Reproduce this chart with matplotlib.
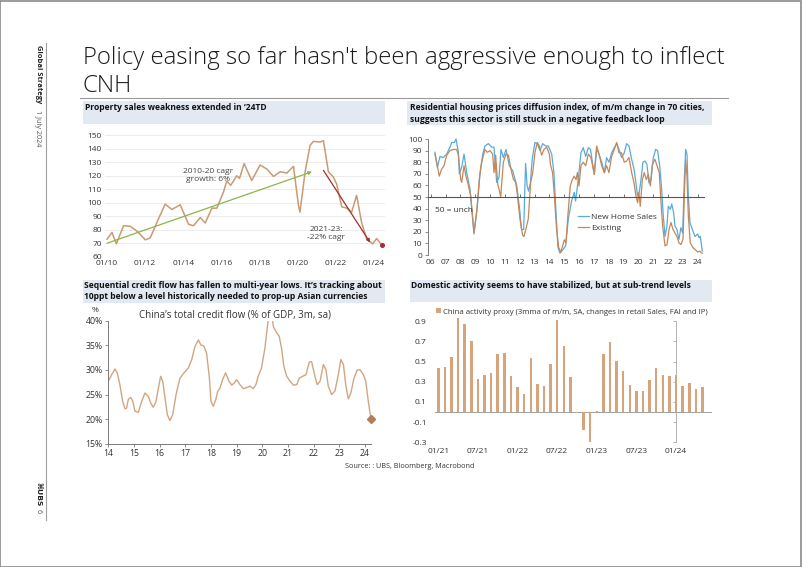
import matplotlib
matplotlib.use('Agg')
import matplotlib.pyplot as plt
from matplotlib.patches import Rectangle
from matplotlib.lines import Line2D

W, H = 802, 567
plt.rcParams['font.family'] = ['Open Sans', 'DejaVu Sans']
TXT = '#333333'

# ---------------- data ----------------
# Chart 1: property sales index
prop_x = [2010.0, 2010.26, 2010.49, 2010.87, 2011.22, 2011.57, 2012.01, 2012.27, 2012.62, 2013.05,
          2013.40, 2013.84, 2014.28, 2014.54, 2014.89, 2015.15, 2015.50, 2015.76, 2016.11, 2016.28,
          2016.49, 2016.81, 2016.95, 2017.19, 2017.59, 2018.03, 2018.38, 2018.73, 2019.08, 2019.43,
          2019.78, 2020.04, 2020.12, 2020.39, 2020.65, 2020.82, 2021.17, 2021.35, 2021.61, 2021.87,
          2022.04, 2022.31, 2022.57, 2022.83, 2023.09, 2023.35, 2023.62, 2023.93, 2024.14, 2024.40]
prop_y = [73, 78, 69.5, 83, 82.5, 79, 72.5, 74, 85.5, 99,
          95, 98.5, 84, 83, 89, 85, 96, 96, 108, 116,
          113, 120, 118, 129, 116.5, 128, 125, 119.5, 123, 122,
          127, 98, 93, 123, 142.5, 145.5, 145, 146, 123, 119,
          114, 97, 96, 93, 105.5, 85.5, 73, 69.5, 73.5, 69]
trend_1020_x = [2010.0, 2020.75]
trend_1020_y = [70, 123]
trend_2123_x = [2021.35, 2023.8]
trend_2123_y = [124, 70.5]
prop_ticks = [2010, 2012, 2014, 2016, 2018, 2020, 2022, 2024]
prop_ticklabels = ['01/10', '01/12', '01/14', '01/16', '01/18', '01/20', '01/22', '01/24']

# Chart 2: housing price diffusion index
new_x = [2006.29, 2006.45, 2006.63, 2006.85, 2007.08, 2007.30, 2007.42, 2007.60, 2007.71, 2007.87,
         2007.93, 2008.09, 2008.25, 2008.43, 2008.65, 2008.92, 2009.15, 2009.33, 2009.51, 2009.66,
         2009.89, 2010.11, 2010.27, 2010.45, 2010.61, 2010.74, 2010.90, 2011.08, 2011.30, 2011.53,
         2011.80, 2012.02, 2012.12, 2012.27, 2012.40, 2012.50, 2012.60, 2012.72, 2012.85, 2013.03,
         2013.19, 2013.37, 2013.55, 2013.75, 2013.93, 2014.16, 2014.31, 2014.45, 2014.58, 2014.72,
         2014.94, 2015.10, 2015.28, 2015.50, 2015.68, 2015.77, 2015.95, 2016.13, 2016.29, 2016.45,
         2016.63, 2016.78, 2016.90, 2017.03, 2017.19, 2017.35, 2017.53, 2017.71, 2017.86, 2018.02,
         2018.20, 2018.38, 2018.54, 2018.70, 2018.87, 2019.05, 2019.21, 2019.37, 2019.55, 2019.71,
         2019.84, 2019.95, 2020.07, 2020.18, 2020.31, 2020.45, 2020.58, 2020.72, 2020.85, 2021.01,
         2021.17, 2021.30, 2021.44, 2021.57, 2021.68, 2021.80, 2021.93, 2022.02, 2022.16, 2022.25,
         2022.38, 2022.47, 2022.60, 2022.74, 2022.87, 2022.99, 2023.10, 2023.19, 2023.28, 2023.37,
         2023.48, 2023.64, 2023.82, 2024.00, 2024.09, 2024.18, 2024.31]
new_y = [88.5, 75.6, 85, 84, 87, 93, 97, 97, 100, 88.5,
         70, 75.6, 87, 71, 57, 18, 42.5, 71, 87, 94,
         96, 93, 93, 62.6, 67, 91, 84, 91, 77, 72.7,
         60, 37, 22, 22, 79, 60, 55, 62, 83, 97,
         96, 90, 96, 94, 94, 87, 71, 37, 6.6, 1.5,
         5, 8, 31, 46.5, 54, 46.5, 65, 88, 92.5, 85,
         92.5, 91, 80, 69.5, 91, 87, 80, 71, 84, 80,
         88, 92.5, 96, 91, 84, 88, 96, 94, 82.5, 74,
         62, 51, 55, 65, 80, 81, 78, 62, 64, 84,
         91, 90, 77, 57, 34, 16, 25, 42, 39.4, 44,
         36.5, 25, 22, 13.5, 23.6, 19, 65, 91, 87, 51,
         28, 22, 16, 18, 15, 16, 3.5]
exist_x = [2006.29, 2006.45, 2006.58, 2006.74, 2006.90, 2007.08, 2007.30, 2007.53, 2007.75, 2007.87,
           2008.02, 2008.09, 2008.25, 2008.38, 2008.54, 2008.70, 2008.92, 2009.10, 2009.28, 2009.44,
           2009.66, 2009.82, 2010.00, 2010.18, 2010.27, 2010.38, 2010.52, 2010.63, 2010.72, 2010.90,
           2011.08, 2011.24, 2011.39, 2011.57, 2011.73, 2011.84, 2012.02, 2012.20, 2012.29, 2012.47,
           2012.58, 2012.74, 2012.88, 2013.03, 2013.19, 2013.33, 2013.48, 2013.64, 2013.82, 2014.00,
           2014.09, 2014.22, 2014.34, 2014.49, 2014.63, 2014.76, 2014.90, 2015.01, 2015.12, 2015.28,
           2015.41, 2015.55, 2015.68, 2015.80, 2015.89, 2016.00, 2016.13, 2016.29, 2016.45, 2016.63,
           2016.80, 2016.92, 2017.03, 2017.19, 2017.35, 2017.53, 2017.71, 2017.86, 2018.02, 2018.20,
           2018.38, 2018.54, 2018.70, 2018.87, 2019.05, 2019.21, 2019.37, 2019.55, 2019.71, 2019.84,
           2019.95, 2020.04, 2020.13, 2020.27, 2020.40, 2020.54, 2020.67, 2020.81, 2020.94, 2021.12,
           2021.26, 2021.41, 2021.53, 2021.64, 2021.80, 2021.93, 2022.07, 2022.20, 2022.34, 2022.47,
           2022.60, 2022.74, 2022.87, 2023.01, 2023.10, 2023.19, 2023.28, 2023.37, 2023.50, 2023.68,
           2023.82, 2024.00, 2024.13, 2024.31]
exist_y = [87, 77, 68, 74, 77, 86, 90, 91, 91, 86,
           65.5, 62.6, 77, 68, 60, 51, 19.5, 37, 65.5, 80,
           91, 88.5, 90, 87, 71, 86, 61, 55.5, 50, 80,
           87, 86, 75.6, 65.5, 62.6, 52.6, 31, 17, 16, 25,
           31, 62.6, 71, 88.5, 97, 94, 86, 91, 93, 87,
           77, 71, 51, 22, 6.6, 2.3, 8, 13, 10.6, 39,
           59.5, 65, 68, 65, 71, 59.5, 77, 80, 77, 87,
           84, 77, 69.5, 94, 87, 77, 71, 77, 71, 85,
           91, 97, 88, 88, 80, 81, 84, 71, 62, 51,
           45, 54, 42, 65, 71, 65, 69.5, 59.5, 78, 82.5,
           77, 71, 45, 25, 7.8, 9, 22, 28, 22, 19,
           16, 10.6, 9, 13.5, 51, 82, 68, 34, 10.6, 6.3,
           4.9, 2.6, 3.4, 1.4]
diff_years = list(range(2006, 2025))
diff_labels = ['%02d' % (y % 100) for y in diff_years]

# Chart 3: China total credit flow (% of GDP)
credit_x = [2014.0, 2014.13, 2014.26, 2014.35, 2014.45, 2014.56, 2014.65, 2014.71, 2014.78, 2014.87,
            2014.95, 2015.04, 2015.17, 2015.30, 2015.43, 2015.56, 2015.65, 2015.75, 2015.86, 2015.95,
            2016.04, 2016.12, 2016.21, 2016.30, 2016.40, 2016.51, 2016.64, 2016.79, 2016.95, 2017.12,
            2017.25, 2017.38, 2017.51, 2017.60, 2017.73, 2017.83, 2017.94, 2018.00, 2018.09, 2018.19,
            2018.26, 2018.35, 2018.45, 2018.57, 2018.70, 2018.81, 2018.90, 2019.00, 2019.13, 2019.26,
            2019.39, 2019.52, 2019.65, 2019.75, 2019.84, 2019.97, 2020.10, 2020.19, 2020.26, 2020.36,
            2020.43, 2020.53, 2020.66, 2020.75, 2020.84, 2020.95, 2021.08, 2021.21, 2021.34, 2021.44,
            2021.57, 2021.70, 2021.83, 2021.92, 2022.05, 2022.14, 2022.25, 2022.38, 2022.48, 2022.57,
            2022.70, 2022.83, 2022.96, 2023.06, 2023.16, 2023.25, 2023.35, 2023.45, 2023.57, 2023.70,
            2023.81, 2023.94, 2024.03, 2024.13, 2024.23]
credit_y = [27.7, 29, 30.2, 29.4, 27, 23.6, 22.1, 22.2, 24, 24.4,
            23.7, 21.6, 21.4, 23.6, 25.3, 24.6, 23.3, 22.4, 23.6, 26.3,
            28.7, 27.7, 24.3, 20.9, 19.7, 20.9, 25, 28.3, 29.4, 30.4,
            32.1, 34.8, 36.1, 35.1, 34.8, 33.4, 28.3, 23.6, 22.6, 24,
            25.6, 26.3, 28, 29.4, 27.7, 26.9, 27.3, 28, 27, 26.2,
            26.4, 26.7, 26.2, 27, 28.7, 30.4, 34.4, 38.5, 41.2, 41.5,
            38.8, 37.8, 36.8, 34.4, 30.7, 28.7, 27.7, 26.9, 27, 28.3,
            28.7, 29, 31.6, 31.7, 28.7, 27, 27.7, 31.1, 30, 26.7,
            25, 25.7, 29, 32.1, 31.1, 27, 24.1, 25.3, 28.3, 30,
            30, 29, 27.7, 23.6, 20.1]
credit_ticks = list(range(2014, 2025))
credit_ticklabels = ['%02d' % (y % 100) for y in credit_ticks]
credit_yticks = [15, 20, 25, 30, 35, 40]

# Chart 4: China activity proxy, monthly Jan-21 .. May-24
activity = [0.44, 0.45, 0.55, 0.93, 0.87, 0.70, 0.33, 0.37, 0.39, 0.575,
            0.585, 0.355, 0.245, 0.18, 0.54, 0.28, 0.255, 0.475, 0.915, 0.66,
            0.35, -0.01, -0.175, -0.30, 0.01, 0.575, 0.69, 0.51, 0.41, 0.265,
            0.21, 0.21, 0.32, 0.44, 0.37, 0.36, 0.365, 0.255, 0.285, 0.23,
            0.245]
act_ticks = [0, 6, 12, 18, 24, 30, 36]
act_ticklabels = ['01/21', '07/21', '01/22', '07/22', '01/23', '07/23', '01/24']
act_yticks = [-0.3, -0.1, 0.1, 0.3, 0.5, 0.7, 0.9]

# ---------------- figure ----------------
fig = plt.figure(figsize=(W / 100, H / 100), dpi=100)


def add_ax(l, t, r, b):
    return fig.add_axes([l / W, 1 - b / H, (r - l) / W, (b - t) / H])


def ftext(x, y, s, **kw):
    return fig.text(x / W, 1 - y / H, s, **kw)


def box(l, t, r, b, color):
    fig.patches.append(Rectangle((l / W, 1 - b / H), (r - l) / W, (b - t) / H,
                                 transform=fig.transFigure, facecolor=color,
                                 edgecolor='none', zorder=0))


def fline(x0, y0, x1, y1, **kw):
    fig.lines.append(Line2D([x0 / W, x1 / W], [1 - y0 / H, 1 - y1 / H],
                            transform=fig.transFigure, **kw))


# page border
fig.patches.append(Rectangle((0.0005, 0.0008), 0.998, 0.998, transform=fig.transFigure,
                             fill=False, edgecolor='#8a8a8a', lw=1.2))

# Left side band
fline(46, 43, 46, 520, color='#a0a0a0', lw=0.8)
ftext(38, 45, 'Global Strategy', rotation=270, ha='center', va='top',
      fontsize=5.4, fontweight='bold', color='#222222')
ftext(38, 110, '1 July 2024', rotation=270, ha='center', va='top',
      fontsize=5.2, color='#555555')
ftext(38, 482, '\u2318UBS', rotation=270, ha='center', va='top',
      fontsize=5.4, fontweight='bold', color='#222222', family=['DejaVu Sans'])
ftext(38, 509, '6', rotation=270, ha='center', va='top', fontsize=5.4, color='#555555')

# Title
ftext(83, 64, "Policy easing so far hasn't been aggressive enough to inflect",
      fontsize=17.3, color='#1a1a1a', va='baseline', fontweight='light')
ftext(83, 92, 'CNH', fontsize=17.3, color='#1a1a1a', va='baseline', fontweight='light')
fline(80, 98, 728, 98, color='#9a9a9a', lw=0.8)

HDR = '#e2e9f2'
box(83, 101, 385, 124, HDR)
box(407, 101, 712, 125, HDR)
box(83, 280, 385, 303, HDR)
box(410, 280, 712, 302, HDR)
hkw = dict(fontsize=6.15, fontweight='bold', color='#111111', va='center', linespacing=1.35)
ftext(85, 108, 'Property sales weakness extended in \u201824TD', **hkw)
ftext(410, 113.5, 'Residential housing prices diffusion index, of m/m change in 70 cities,\n'
      'suggests this sector is still stuck in a negative feedback loop', **hkw)
ftext(84, 291, 'Sequential credit flow has fallen to multi-year lows. It\u2019s tracking about\n'
      '10ppt below a level historically needed to prop-up Asian currencies', **hkw)
ftext(411, 286, 'Domestic activity seems to have stabilized, but at sub-trend levels', **hkw)

TICK_FS = 6.0

# ---------- Chart 1 ----------
ax1 = add_ax(105.1, 135.3, 385.4, 256.7)
ax1.set_xlim(2009.9, 2024.6)
ax1.set_ylim(60, 150)
ax1.set_yticks(range(60, 151, 10))
ax1.yaxis.grid(True, color='#e9e9e9', lw=0.6)
ax1.set_axisbelow(True)
for s in ax1.spines.values():
    s.set_visible(False)
ax1.set_xticks(prop_ticks)
ax1.set_xticklabels(prop_ticklabels)
ax1.tick_params(length=0, labelsize=TICK_FS, colors=TXT, pad=2.5)
ax1.plot(prop_x, prop_y, color='#c99a74', lw=1.1, zorder=3)
ax1.annotate('', xy=(trend_1020_x[1], trend_1020_y[1]), xytext=(trend_1020_x[0], trend_1020_y[0]),
             arrowprops=dict(arrowstyle='-|>', color='#8db54b', lw=0.9, mutation_scale=5,
                             shrinkA=0, shrinkB=0), zorder=4)
ax1.annotate('', xy=(trend_2123_x[1], trend_2123_y[1]), xytext=(trend_2123_x[0], trend_2123_y[0]),
             arrowprops=dict(arrowstyle='-|>', color='#a03030', lw=0.9, mutation_scale=5,
                             shrinkA=0, shrinkB=0), zorder=4)
ax1.plot([prop_x[-1]], [prop_y[-1]], 'o', color='#a03030', ms=2.6, zorder=5, clip_on=False)
ax1.text(2015.3, 120.3, '2010-20 cagr\ngrowth: 6%', ha='center', va='center',
         fontsize=6.0, color='#444444', linespacing=1.2, zorder=6)
ax1.text(2021.5, 77, '2021-23:\n-22% cagr', ha='center', va='center',
         fontsize=6.0, color='#444444', linespacing=1.2)

# ---------- Chart 2 ----------
ax2 = add_ax(427.7, 139, 703.6, 255)
ax2.set_xlim(2005.8, 2024.4)
ax2.set_ylim(0, 100)
ax2.spines['top'].set_visible(False)
ax2.spines['right'].set_visible(False)
ax2.spines['left'].set_color('#7a7a7a')
ax2.spines['left'].set_linewidth(0.7)
ax2.spines['bottom'].set_position(('data', 50))
ax2.spines['bottom'].set_color('#555555')
ax2.spines['bottom'].set_linewidth(0.8)
ax2.set_yticks(range(0, 101, 10))
ax2.tick_params(axis='y', length=2, width=0.6, color='#7a7a7a', labelsize=TICK_FS,
                labelcolor=TXT, pad=2)
ax2.set_xticks(diff_years)
ax2.tick_params(axis='x', length=2, width=0.6, color='#555555', labelbottom=False,
                direction='in')
sec = ax2.secondary_xaxis(0)
sec.set_xticks(diff_years)
sec.set_xticklabels(diff_labels)
sec.spines['bottom'].set_visible(False)
sec.tick_params(length=0, labelsize=TICK_FS, labelcolor=TXT, pad=3)
ax2.plot(new_x, new_y, color='#5aaadc', lw=0.9, label='New Home Sales', clip_on=False)
ax2.plot(exist_x, exist_y, color='#c4875a', lw=0.9, label='Existing', clip_on=False)
ax2.text(2006.3, 38.5, '50 = unch', fontsize=6.0, color=TXT, va='center')
ax2.legend(loc='center left', bbox_to_anchor=(0.545, 0.28), frameon=False, fontsize=6.0,
           handlelength=1.3, handletextpad=0.25, labelspacing=0.35, borderpad=0,
           borderaxespad=0, labelcolor=TXT)

# ---------- Chart 3 ----------
ax3 = add_ax(108.3, 320.7, 371.4, 443.7)
ax3.set_xlim(2014, 2024.25)
ax3.set_ylim(15, 40)
ax3.spines['top'].set_visible(False)
ax3.spines['right'].set_visible(False)
for s in ('left', 'bottom'):
    ax3.spines[s].set_color('#7a7a7a')
    ax3.spines[s].set_linewidth(0.7)
ax3.set_yticks(credit_yticks)
ax3.set_yticklabels(['%d%%' % v for v in credit_yticks])
ax3.set_xticks(credit_ticks)
ax3.set_xticklabels(credit_ticklabels)
ax3.tick_params(length=2, width=0.6, color='#7a7a7a', labelsize=6.3, labelcolor=TXT, pad=2)
ax3.plot(credit_x, credit_y, color='#d2a582', lw=1.0)
ax3.plot([credit_x[-1]], [credit_y[-1]], 'D', color='#b47c52', ms=3.8, clip_on=False, zorder=5)
ftext(95, 311, '%', fontsize=6.0, color=TXT, ha='center', va='center')
ftext(235, 315, 'China\u2019s total credit flow (% of GDP, 3m, sa)', fontsize=7.0,
      color=TXT, ha='center', va='center')

# ---------- Chart 4 ----------
ax4 = add_ax(435, 321.3, 711.7, 442.3)
ax4.set_xlim(-0.5, 41.4)
ax4.set_ylim(-0.3, 0.9)
bars = ax4.bar(range(len(activity)), activity, width=0.38, color='#d6a47c', zorder=3,
               label='China activity proxy (3mma of m/m, SA, changes in retail Sales, FAI and IP)')
for b in bars:
    b.set_clip_on(False)
ax4.axhline(0, color='#a0a0a0', lw=0.7, zorder=2)
for s in ('top', 'left', 'bottom'):
    ax4.spines[s].set_visible(False)
ax4.spines['right'].set_position(('data', 36))
ax4.spines['right'].set_color('#a8a8a8')
ax4.spines['right'].set_linewidth(0.6)
ax4.set_yticks(act_yticks)
ax4.set_yticklabels(['%.1f' % v for v in act_yticks])
ax4.tick_params(axis='y', left=False, right=True, labelleft=True, labelright=False,
                direction='in', length=2.5, width=0.6, color='#a8a8a8',
                labelsize=TICK_FS, labelcolor=TXT, pad=6)
ax4.set_xticks(act_ticks)
ax4.set_xticklabels(act_ticklabels)
ax4.tick_params(axis='x', length=0, labelsize=TICK_FS, labelcolor=TXT, pad=4)
ax4.legend(loc='center left', bbox_to_anchor=(0.005, 1.077), frameon=False, fontsize=5.6,
           handlelength=0.6, handleheight=0.6, handletextpad=0.3, borderpad=0,
           borderaxespad=0, labelcolor=TXT)

# Source
ftext(345, 467, 'Source: : UBS, Bloomberg, Macrobond', fontsize=5.2, color=TXT, va='center')

fig.savefig('out.png', dpi=100)
